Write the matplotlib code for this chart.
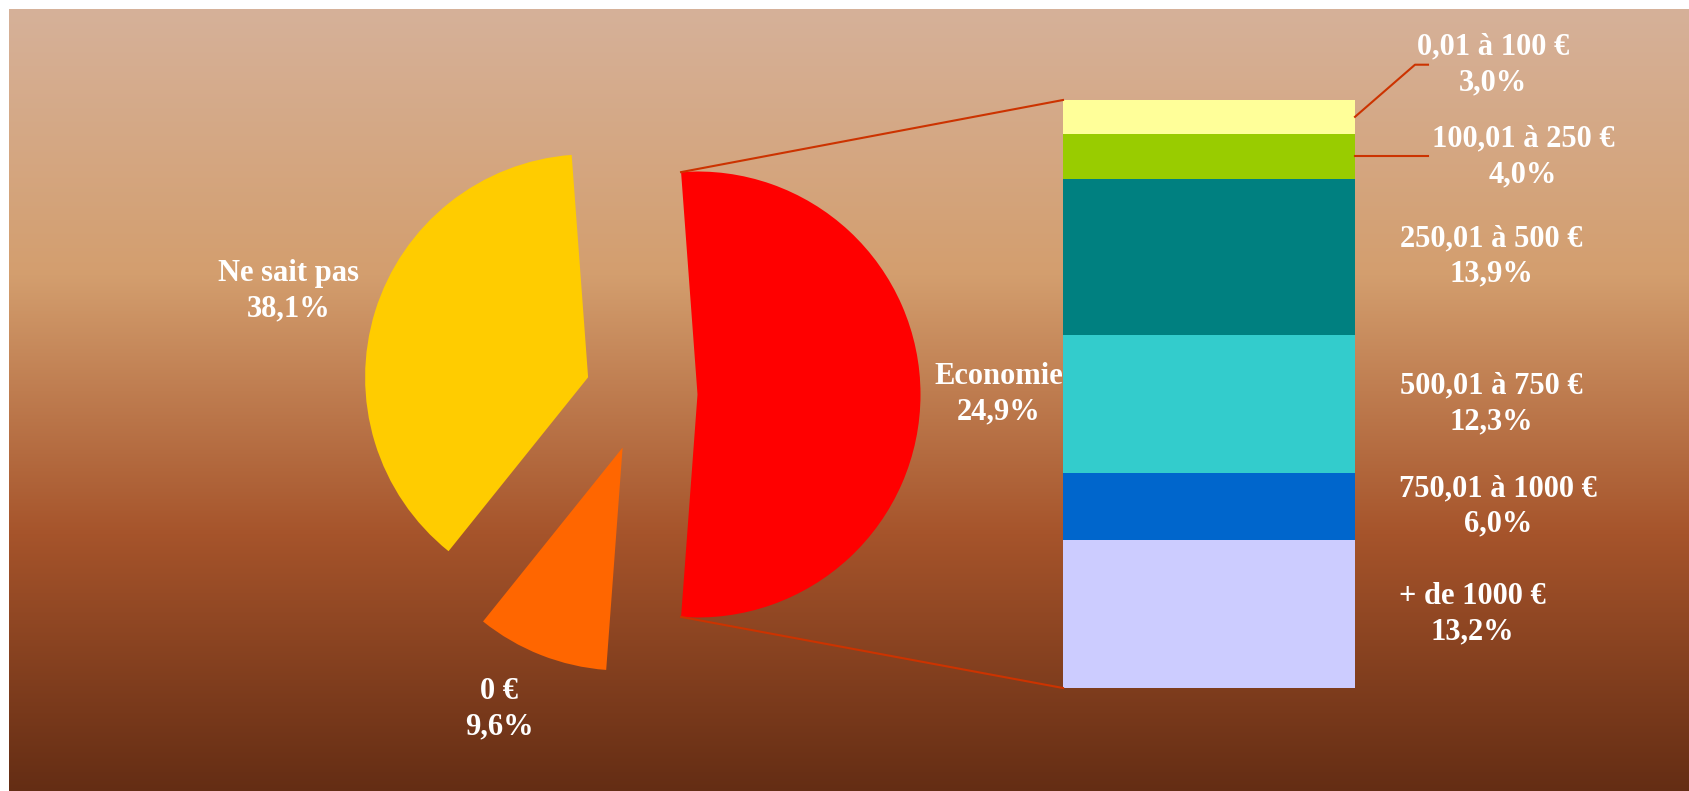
import numpy as np
import matplotlib
matplotlib.use("Agg")
import matplotlib.pyplot as plt

# pie data (Economie slice = sum of the breakdown bar)
pie_labels = ["Economie", "Ne sait pas", "0 €"]
pie_pcts = ["24,9%", "38,1%", "9,6%"]
pie_colors = ["#FF0000", "#FFCC00", "#FF6600"]

# breakdown bar, from bottom to top
bar_labels = ["+ de 1000 €", "750,01 à 1000 €", "500,01 à 750 €",
              "250,01 à 500 €", "100,01 à 250 €", "0,01 à 100 €"]
bar_values = [13.2, 6.0, 12.3, 13.9, 4.0, 3.0]
bar_pcts = ["13,2%", "6,0%", "12,3%", "13,9%", "4,0%", "3,0%"]
bar_colors = ["#CCCCFF", "#0066CC", "#33CCCC", "#008080", "#99CC00", "#FFFF99"]

pie_values = [sum(bar_values), 38.1, 9.6]

W, H = 1690, 791
fig = plt.figure(figsize=(W / 100, H / 100), dpi=100)
fig.patch.set_facecolor("white")
ax = fig.add_axes([0, 0, 1, 1])

# background gradient (top -> bottom)
stops_y = [0.0, 0.34, 0.67, 1.0]
stops_c = np.array([[214, 177, 153], [211, 158, 110], [166, 84, 43], [100, 45, 20]]) / 255
t = np.linspace(0, 1, 400)
grad = np.stack([np.interp(t, stops_y, stops_c[:, k]) for k in range(3)], axis=1)
ax.imshow(grad[:, None, :], extent=[9, W + 2, -2, H - 9], aspect="auto",
          interpolation="bilinear", zorder=0)

# pie
radius = 223
center = (643.5, H - 394.5)
frac_econ = pie_values[0] / sum(pie_values)
start = -180 * frac_econ
wedges, _ = ax.pie(pie_values, colors=pie_colors, radius=radius, center=center,
                   explode=[54, 58, 57], startangle=start, counterclock=True,
                   wedgeprops=dict(linewidth=0))
for w in wedges:
    w.set_zorder(2)

# stacked bar
bar_x = 1209
bar_w = 292
bar_bottom = H - 688
scale = 588 / sum(bar_values)
bottom = bar_bottom
seg_mid = []
for v, c in zip(bar_values, bar_colors):
    ax.bar(bar_x, v * scale, width=bar_w, bottom=bottom, color=c, linewidth=0, zorder=2)
    seg_mid.append(bottom + v * scale / 2)
    bottom += v * scale
bar_top = bottom

# connector lines between pie and bar
line_c = "#CC3300"
red = wedges[0]
cx, cy = red.center
top_pt = (cx + red.r * np.cos(np.radians(red.theta2)), cy + red.r * np.sin(np.radians(red.theta2)))
bot_pt = (cx + red.r * np.cos(np.radians(red.theta1)), cy + red.r * np.sin(np.radians(red.theta1)))
left = bar_x - bar_w / 2
right = bar_x + bar_w / 2
ax.plot([top_pt[0], left], [top_pt[1], bar_top], color=line_c, lw=1.5, zorder=3)
ax.plot([bot_pt[0], left], [bot_pt[1], bar_bottom], color=line_c, lw=1.5, zorder=3)

# leader lines for the two small segments
ax.plot([right, 1415, 1428], [seg_mid[5], H - 64.7, H - 64.7], color=line_c, lw=1.5, zorder=3)
ax.plot([right, 1428], [seg_mid[4], seg_mid[4]], color=line_c, lw=1.5, zorder=3)

font = dict(family=["Liberation Serif", "DejaVu Serif"], fontsize=22, fontweight="bold",
            color="white", ha="center", va="center", linespacing=1.3, zorder=4)

# pie labels
pie_pos = [(999, H - 394.5), (289, H - 291), (499, H - 709)]
for lab, pct, (x, y) in zip(pie_labels, pie_pcts, pie_pos):
    ax.text(x, y, lab + "\n" + pct, **font)

# bar labels
bar_pos = [(1472, H - 614), (1498, H - 506.6), (1491, H - 404),
           (1491, H - 256.5), (1523, H - 157), (1493, H - 64.7)]
for lab, pct, (x, y) in zip(bar_labels, bar_pcts, bar_pos):
    ax.text(x, y, lab + "\n" + pct, **font)

ax.set_xlim(0, W)
ax.set_ylim(0, H)
ax.set_aspect("auto")
ax.axis("off")

fig.savefig("out.png", dpi=100, facecolor=fig.get_facecolor())
